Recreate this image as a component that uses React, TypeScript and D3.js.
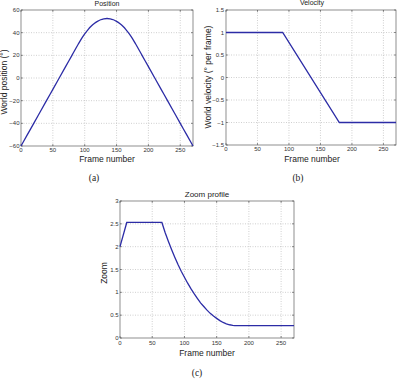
import React from "react";
import * as d3 from "d3";

// ---- Data ----
const xTicks = [0, 50, 100, 150, 200, 250];

const posFrames = [0, 10, 20, 30, 40, 50, 60, 70, 80, 90, 95, 100, 105, 110, 115, 120, 125, 130, 135, 140, 145, 150, 155, 160, 165, 170, 175, 180, 190, 200, 210, 220, 230, 240, 250, 260, 270];
const posValues = [-60, -50, -40, -30, -20, -10, 0, 10, 20, 30, 34.7, 38.9, 42.5, 45.6, 48.1, 50, 51.4, 52.2, 52.5, 52.2, 51.4, 50, 48.1, 45.6, 42.5, 38.9, 34.7, 30, 20, 10, 0, -10, -20, -30, -40, -50, -60];
const posTicks = [-60, -40, -20, 0, 20, 40, 60];

const velFrames = [0, 90, 180, 270];
const velValues = [1, 1, -1, -1];
const velTicks = [-1.5, -1, -0.5, 0, 0.5, 1, 1.5];

const zoomFrames = [0, 10.5, 65, 70, 75, 80, 85, 90, 95, 100, 105, 110, 115, 120, 125, 130, 135, 140, 145, 150, 155, 160, 165, 170, 175, 178, 270];
const zoomValues = [2.0, 2.53, 2.53, 2.31, 2.12, 1.94, 1.77, 1.61, 1.46, 1.33, 1.2, 1.08, 0.97, 0.87, 0.77, 0.69, 0.61, 0.54, 0.48, 0.43, 0.38, 0.34, 0.31, 0.29, 0.275, 0.27, 0.27];
const zoomTicks = [0, 0.5, 1, 1.5, 2, 2.5, 3];

const FONT = "'Liberation Sans', Arial, Helvetica, sans-serif";
const SERIF = "'Liberation Serif', 'Times New Roman', serif";
const LINE = "#2c2ca6";

type PanelProps = {
  left: number; right: number; top: number; bottom: number;
  yDomain: [number, number];
  yTicks: number[];
  frames: number[];
  values: number[];
  smooth?: boolean;
  title: string; titleX: number; titleY: number; titleSize: number;
  ylabel: string; ylabelX: number; ylabelY: number;
  xlabelX: number; xlabelY: number;
  tickLabelY: number;
  yTickRight: number;
  caption: string; captionX: number; captionY: number;
};

function fmt(v: number) {
  const s = String(v);
  return v < 0 ? "\u2212" + s.slice(1) : s;
}

function Panel(p: PanelProps) {
  const x = d3.scaleLinear().domain([0, 270]).range([p.left, p.right]);
  const y = d3.scaleLinear().domain(p.yDomain).range([p.bottom, p.top]);
  const pts = p.frames.map((f, i) => [f, p.values[i]] as [number, number]);
  const line = d3
    .line<[number, number]>()
    .x((d) => x(d[0]))
    .y((d) => y(d[1]))
    .curve(p.smooth ? d3.curveMonotoneX : d3.curveLinear);
  const tl = 2;
  return (
    <g>
      {xTicks.slice(1).map((t) => (
        <line key={"gx" + t} x1={x(t)} x2={x(t)} y1={p.top} y2={p.bottom} stroke="#b0b0b0" strokeWidth={0.6} strokeDasharray="1,1.5" />
      ))}
      {p.yTicks.slice(1, -1).map((t) => (
        <line key={"gy" + t} x1={p.left} x2={p.right} y1={y(t)} y2={y(t)} stroke="#b0b0b0" strokeWidth={0.6} strokeDasharray="1,1.5" />
      ))}
      {xTicks.map((t) => (
        <g key={"tx" + t}>
          <line x1={x(t)} x2={x(t)} y1={p.bottom} y2={p.bottom - tl} stroke="#333" strokeWidth={0.5} />
          <line x1={x(t)} x2={x(t)} y1={p.top} y2={p.top + tl} stroke="#333" strokeWidth={0.5} />
          <text x={x(t)} y={p.tickLabelY} fontSize={6} fontFamily={FONT} textAnchor="middle" fill="#333">{fmt(t)}</text>
        </g>
      ))}
      {p.yTicks.map((t) => (
        <g key={"ty" + t}>
          <line x1={p.left} x2={p.left + tl} y1={y(t)} y2={y(t)} stroke="#333" strokeWidth={0.5} />
          <line x1={p.right} x2={p.right - tl} y1={y(t)} y2={y(t)} stroke="#333" strokeWidth={0.5} />
          <text x={p.yTickRight} y={y(t) + 2} fontSize={6} fontFamily={FONT} textAnchor="end" fill="#333">{fmt(t)}</text>
        </g>
      ))}
      <rect x={p.left} y={p.top} width={p.right - p.left} height={p.bottom - p.top} fill="none" stroke="#444" strokeWidth={0.6} />
      <path d={line(pts) || ""} fill="none" stroke={LINE} strokeWidth={1.3} />
      <text x={p.titleX} y={p.titleY} fontSize={p.titleSize} fontFamily={FONT} textAnchor="middle" fill="#222">{p.title}</text>
      <text x={p.xlabelX} y={p.xlabelY} fontSize={8.5} fontFamily={FONT} textAnchor="middle" fill="#222">Frame number</text>
      <text transform={`translate(${p.ylabelX},${p.ylabelY}) rotate(-90)`} fontSize={8.5} fontFamily={FONT} textAnchor="middle" fill="#222">{p.ylabel}</text>
      <text x={p.captionX} y={p.captionY} fontSize={9.5} fontFamily={SERIF} textAnchor="middle" fill="#222">{p.caption}</text>
    </g>
  );
}

export default function App() {
  return (
    <svg width={397} height={384} style={{ position: "absolute", left: 0, top: 0, background: "#fff" }}>
      <rect width={397} height={384} fill="#fff" />
      <Panel
        left={21} right={193} top={10} bottom={146}
        yDomain={[-60, 60]} yTicks={posTicks}
        frames={posFrames} values={posValues} smooth
        title="Position" titleX={107} titleY={6} titleSize={7}
        ylabel="World position (°)" ylabelX={7} ylabelY={82}
        xlabelX={107} xlabelY={162}
        tickLabelY={152}
        yTickRight={19.5}
        caption="(a)" captionX={94} captionY={180.5}
      />
      <Panel
        left={226} right={396} top={10} bottom={145}
        yDomain={[-1.5, 1.5]} yTicks={velTicks}
        frames={velFrames} values={velValues}
        title="Velocity" titleX={312} titleY={5} titleSize={7}
        ylabel="World velocity (° per frame)" ylabelX={210.5} ylabelY={77}
        xlabelX={312} xlabelY={162}
        tickLabelY={151}
        yTickRight={224}
        caption="(b)" captionX={298} captionY={180.5}
      />
      <Panel
        left={120} right={294} top={201} bottom={338}
        yDomain={[0, 3]} yTicks={zoomTicks}
        frames={zoomFrames} values={zoomValues}
        title="Zoom profile" titleX={207} titleY={197} titleSize={8}
        ylabel="Zoom" ylabelX={107} ylabelY={273}
        xlabelX={207} xlabelY={355.5}
        tickLabelY={345}
        yTickRight={118.5}
        caption="(c)" captionX={197} captionY={376}
      />
    </svg>
  );
}
